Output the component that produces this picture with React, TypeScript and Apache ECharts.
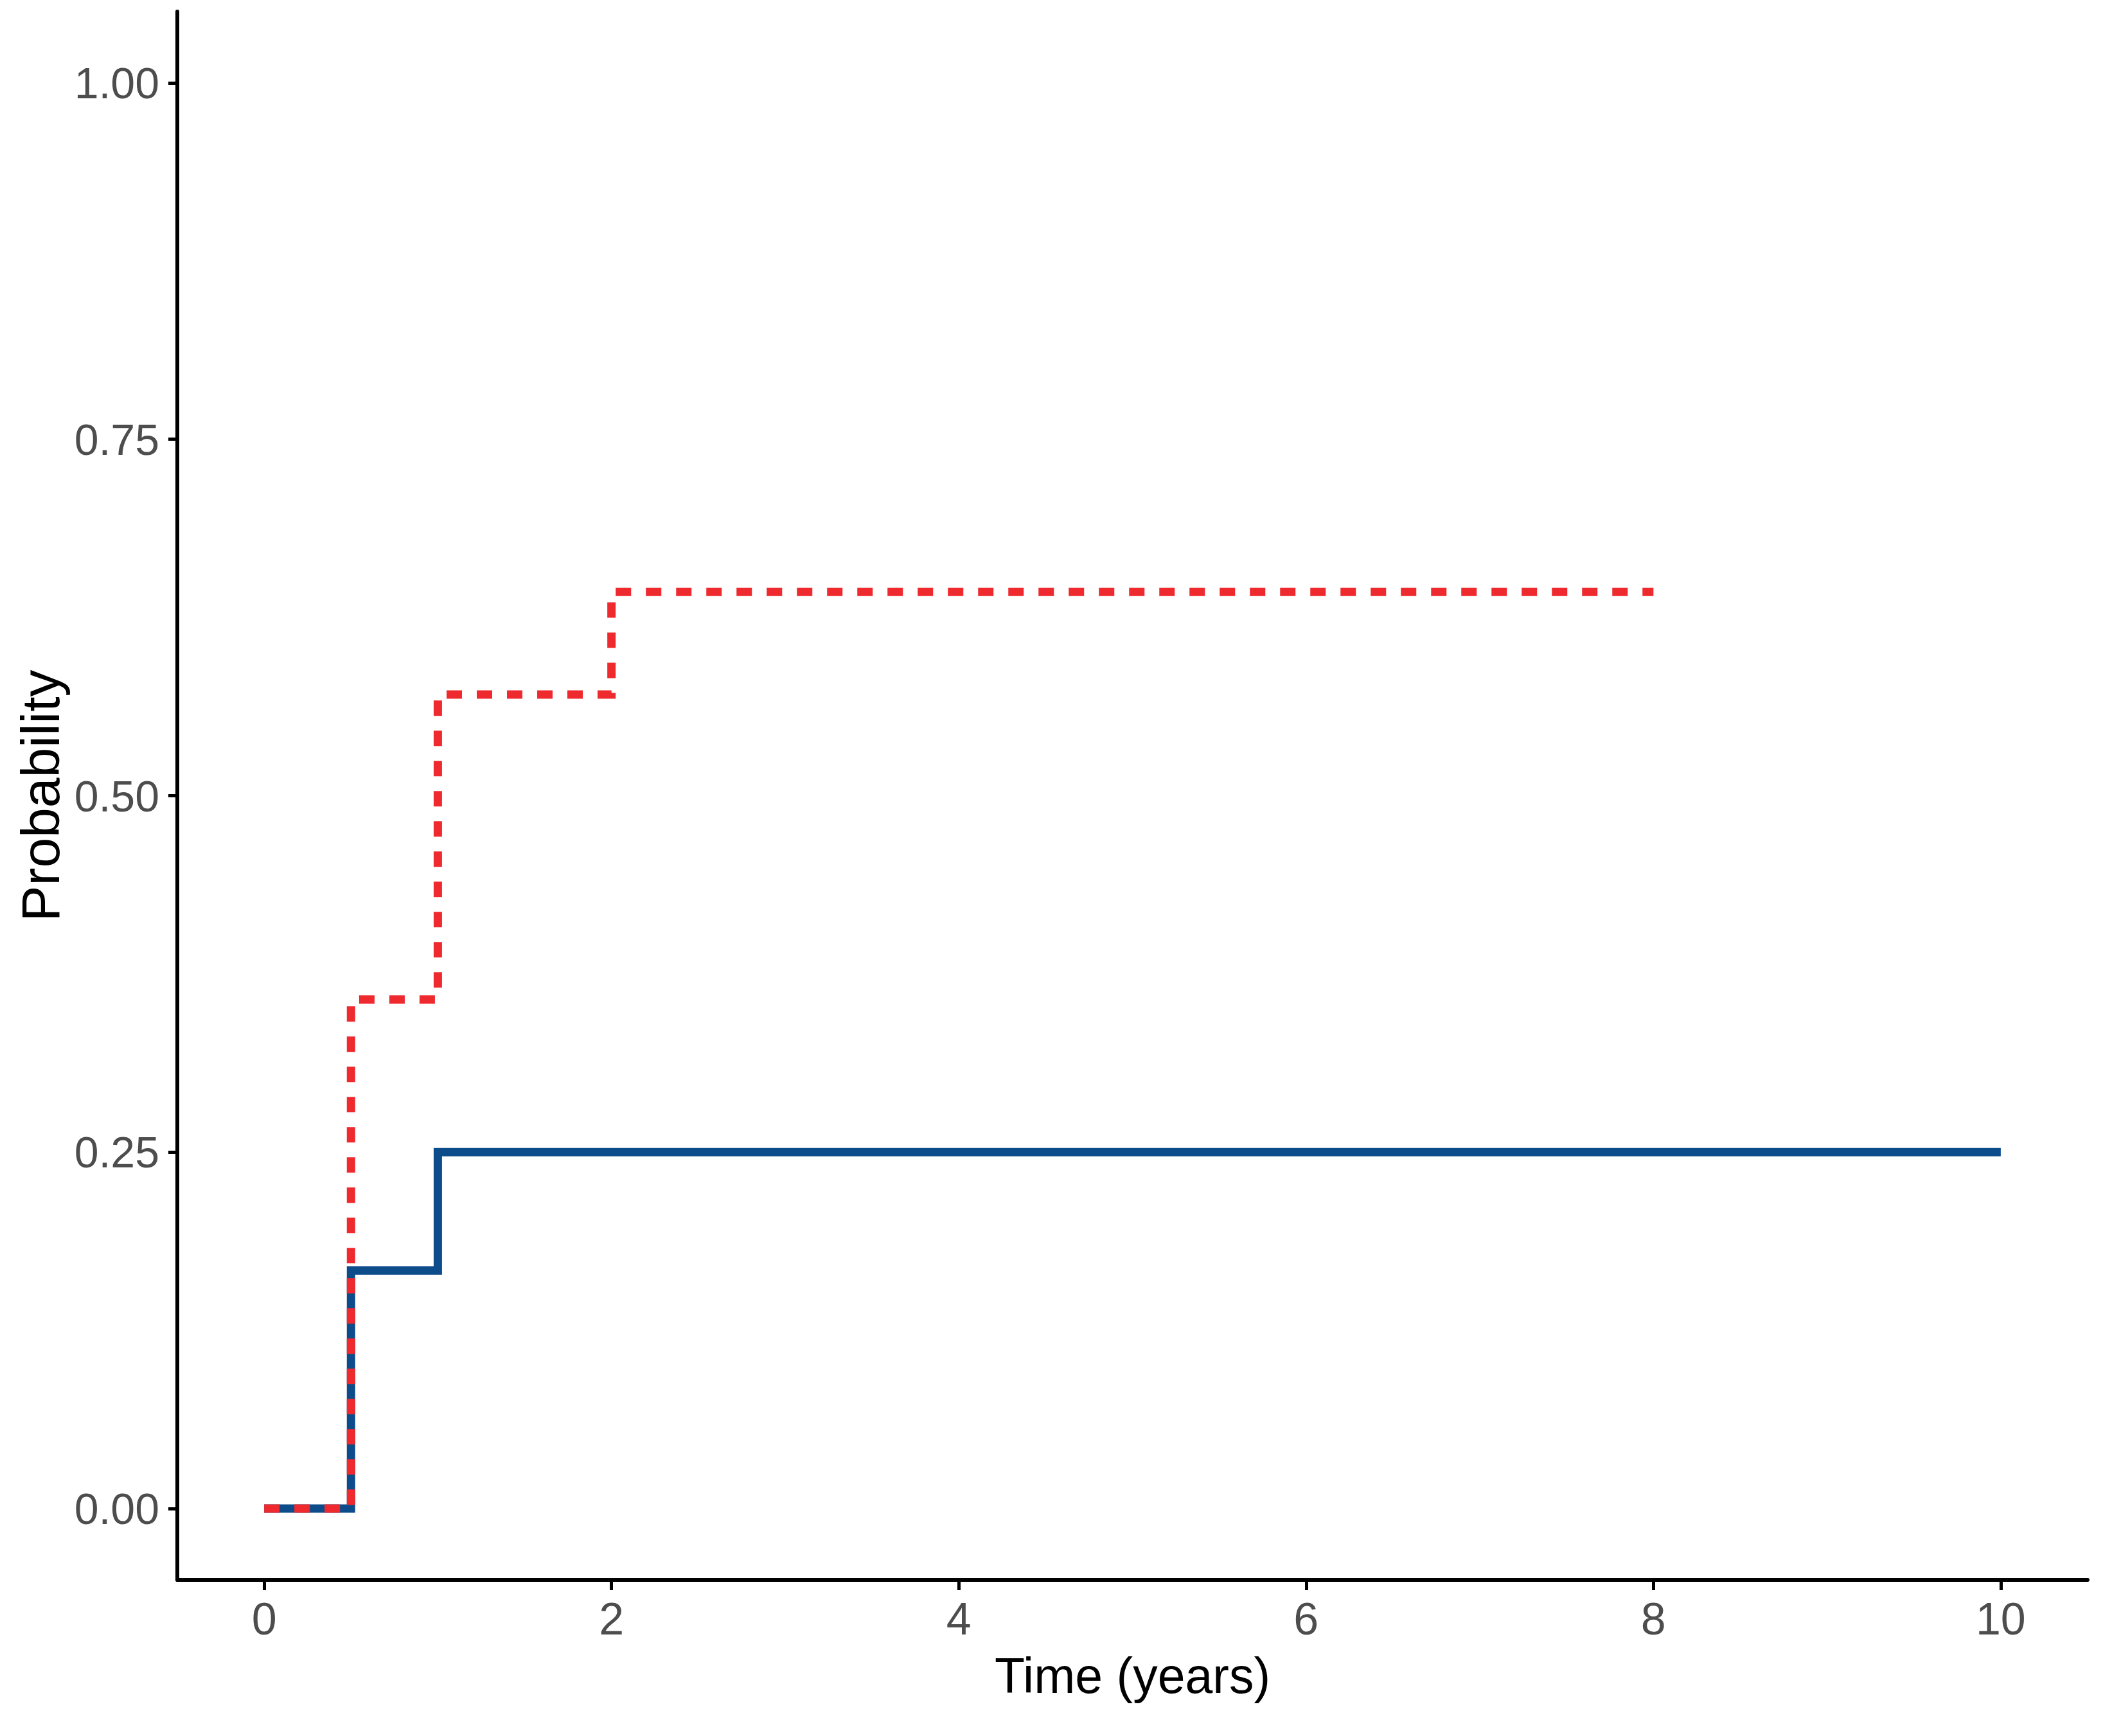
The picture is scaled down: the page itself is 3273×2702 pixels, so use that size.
import { useEffect, useRef } from "react";
import * as echarts from "echarts";

// step curves: value holds from each time until the next one
const blueTimes = [0, 0.5, 1, 10];
const blueProb = [0, 0.167, 0.25, 0.25];
const redTimes = [0, 0.5, 1, 2, 8];
const redProb = [0, 0.357, 0.571, 0.643, 0.643];

const xTicks = [0, 2, 4, 6, 8, 10];
const yTicks = [0, 0.25, 0.5, 0.75, 1];

const FONT = "'Liberation Sans', Arial, sans-serif";

function pairs(xs: number[], ys: number[]) {
  return xs.map((x, i) => [x, ys[i]]);
}

export default function App() {
  const ref = useRef<HTMLDivElement>(null);

  useEffect(() => {
    document.body.style.margin = "0";
    if (!ref.current) return;
    const chart = echarts.init(ref.current, undefined, { renderer: "svg" });

    chart.setOption({
      animation: false,
      backgroundColor: "#ffffff",
      grid: { left: 276, right: 24, top: 18, bottom: 243 },
      xAxis: {
        type: "value",
        min: -0.5,
        max: 10.5,
        name: "Time (years)",
        nameLocation: "middle",
        nameGap: 110,
        nameTextStyle: { fontFamily: FONT, fontSize: 77, color: "#000000" },
        splitLine: { show: false },
        axisLine: { show: true, onZero: false, lineStyle: { color: "#000000", width: 6 } },
        axisTick: {
          show: true,
          customValues: xTicks,
          length: 16,
          lineStyle: { color: "#000000", width: 5 },
        },
        axisLabel: {
          customValues: xTicks,
          margin: 26,
          fontFamily: FONT,
          fontSize: 70,
          color: "#4D4D4D",
        },
      },
      yAxis: {
        type: "value",
        min: -0.05,
        max: 1.05,
        name: "Probability",
        nameLocation: "middle",
        nameRotate: 90,
        nameGap: 158,
        nameTextStyle: { fontFamily: FONT, fontSize: 84, color: "#000000" },
        splitLine: { show: false },
        axisLine: { show: true, onZero: false, lineStyle: { color: "#000000", width: 6 } },
        axisTick: {
          show: true,
          customValues: yTicks,
          length: 14,
          lineStyle: { color: "#000000", width: 5 },
        },
        axisLabel: {
          customValues: yTicks,
          margin: 28,
          fontFamily: FONT,
          fontSize: 68,
          color: "#4D4D4D",
          formatter: (v: number) => v.toFixed(2),
        },
      },
      series: [
        {
          type: "line",
          step: "end",
          showSymbol: false,
          data: pairs(blueTimes, blueProb),
          lineStyle: { color: "#0D4C8B", width: 13, type: "solid", cap: "butt", join: "miter" },
        },
        {
          type: "line",
          step: "end",
          showSymbol: false,
          data: pairs(redTimes, redProb),
          lineStyle: { color: "#EE2A2E", width: 13, type: [24, 23], cap: "butt", join: "miter" },
        },
      ],
    });

    return () => chart.dispose();
  }, []);

  return <div ref={ref} style={{ width: 3273, height: 2702 }} />;
}
